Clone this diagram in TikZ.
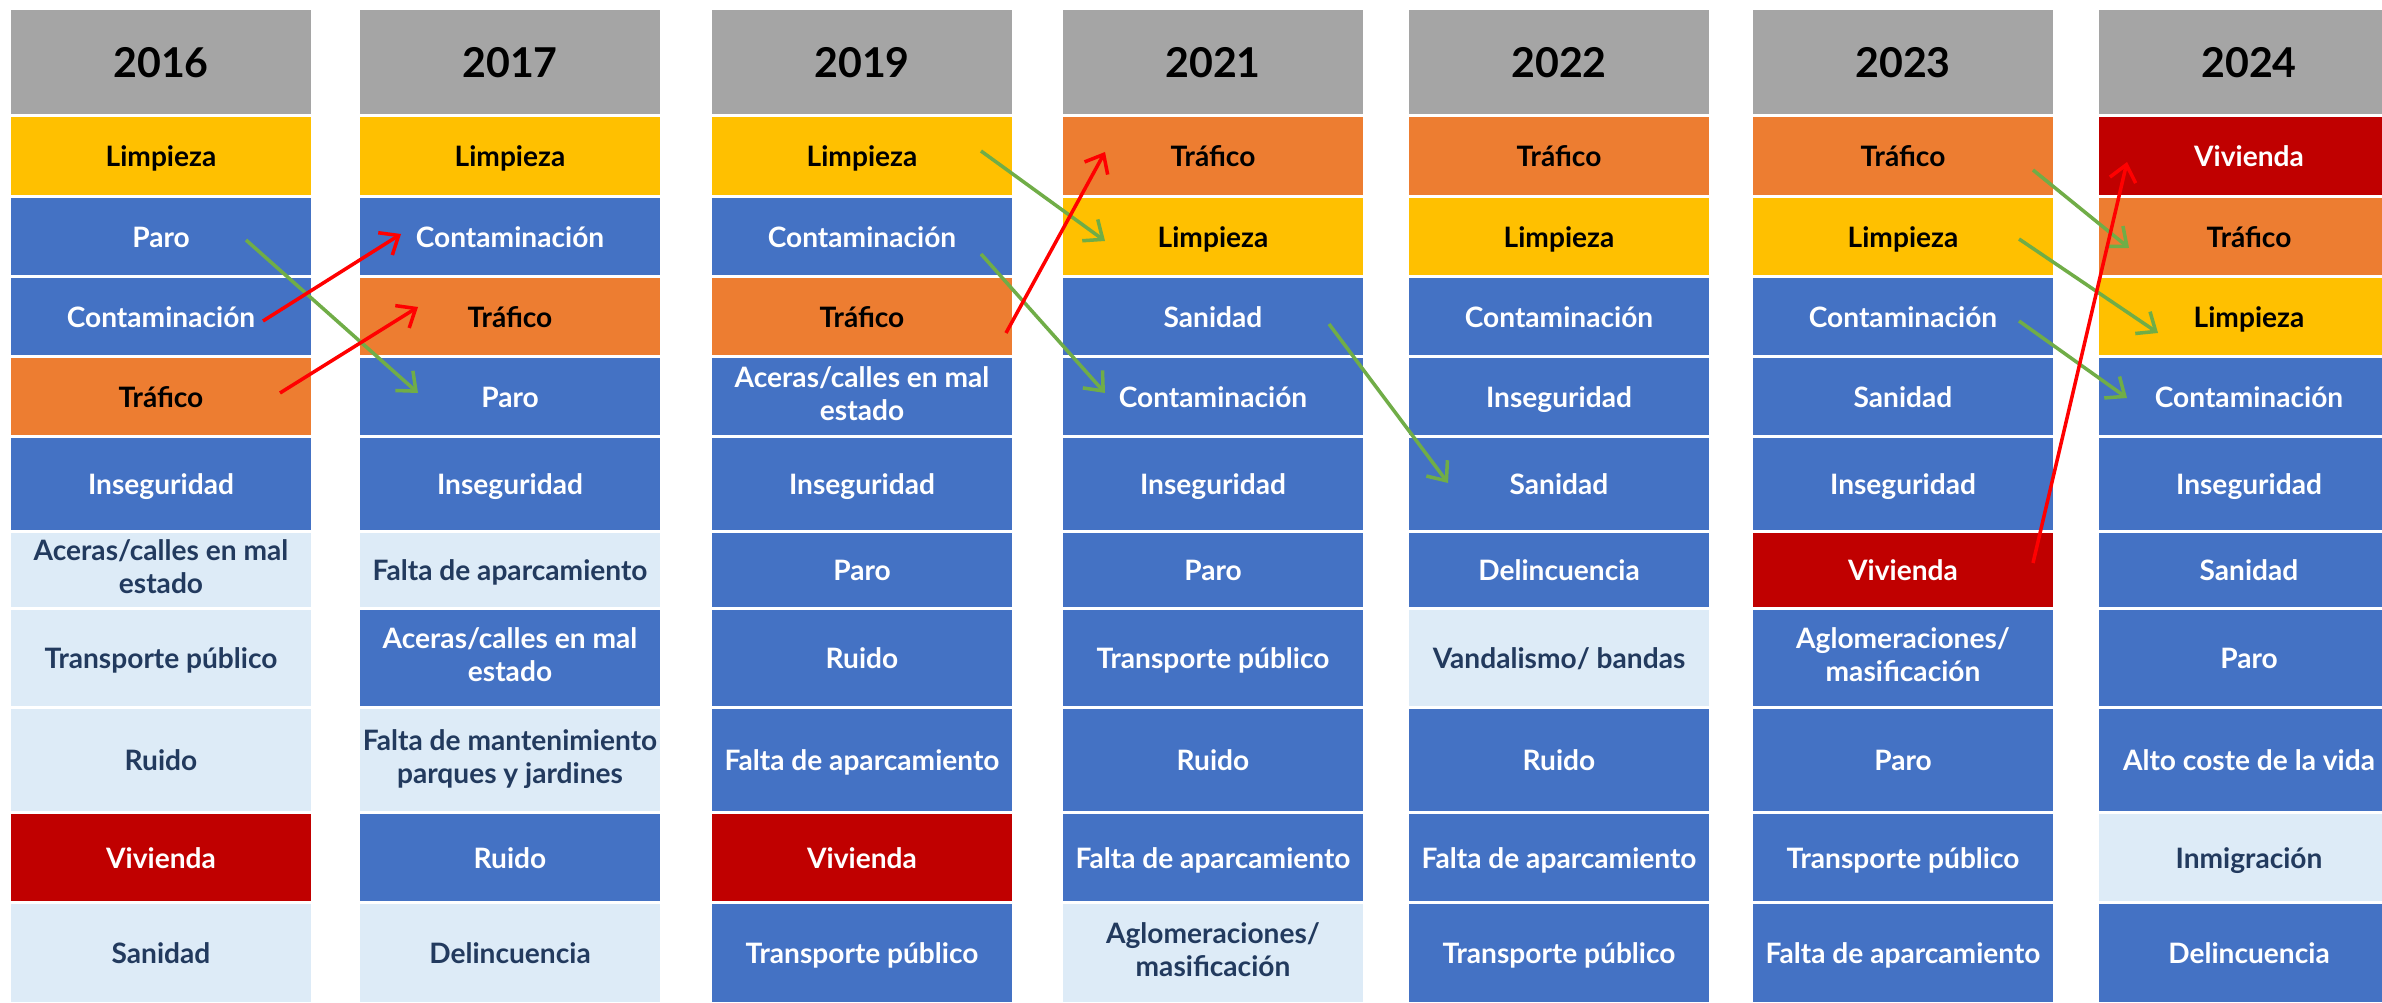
\documentclass[tikz,border=0pt]{standalone}
\usepackage{fontspec}
\setmainfont{Lato}
\usepackage{tikz}
\usetikzlibrary{positioning,arrows.meta}
\definecolor{cHead}{HTML}{A5A5A5}
\definecolor{cYlw}{HTML}{FFC000}
\definecolor{cOrn}{HTML}{ED7D31}
\definecolor{cBlu}{HTML}{4472C4}
\definecolor{cPal}{HTML}{DDEBF7}
\definecolor{cCrm}{HTML}{C00000}
\definecolor{cInk}{HTML}{223A5E}
\definecolor{cUp}{HTML}{FF0000}
\definecolor{cDown}{HTML}{70AD47}

\begin{document}
\begin{tikzpicture}[node distance=0.03cm, >={Straight Barb[length=4.5pt,width=7.5pt]},
	cell/.style={rectangle, inner sep=0pt, outer sep=0pt, minimum width=3cm, align=center,
		font=\bfseries\fontsize{8}{9.4}\selectfont,
		execute at begin node={\rule[-0.213em]{0pt}{1.2em}},
		execute at end node={\rule[-0.213em]{0pt}{1.2em}}},
	hdr/.style={cell, fill=cHead, text=black, minimum height=1.04cm, font=\bfseries\fontsize{11.7}{13.5}\selectfont},
	ylw/.style={cell, fill=cYlw, text=black},
	orn/.style={cell, fill=cOrn, text=black},
	blu/.style={cell, fill=cBlu, text=white},
	pal/.style={cell, fill=cPal, text=cInk},
	crm/.style={cell, fill=cCrm, text=white},
	r1/.style={minimum height=0.78cm}, r2/.style={minimum height=0.77cm},
	r3/.style={minimum height=0.77cm}, r4/.style={minimum height=0.77cm},
	r5/.style={minimum height=0.92cm}, r6/.style={minimum height=0.74cm},
	r7/.style={minimum height=0.96cm}, r8/.style={minimum height=1.02cm},
	r9/.style={minimum height=0.87cm}, r10/.style={minimum height=0.98cm},
	up/.style={draw=cUp, line width=1pt, ->},
	down/.style={draw=cDown, line width=1pt, ->}]
	\fill[white] (0,0) rectangle (23.82,-10.03);
	\useasboundingbox (0,0) rectangle (23.82,-10.03);

	\node[hdr] (h16) at (1.61,-0.62) {2016};
	\node[ylw, r1, below=of h16] (a1) {Limpieza};
	\node[blu, r2, below=of a1] (a2) {Paro};
	\node[blu, r3, below=of a2] (a3) {Contaminación};
	\node[orn, r4, below=of a3] (a4) {Tráfico};
	\node[blu, r5, below=of a4] (a5) {Inseguridad};
	\node[pal, r6, below=of a5] (a6) {Aceras/calles en mal\\estado};
	\node[pal, r7, below=of a6] (a7) {Transporte público};
	\node[pal, r8, below=of a7] (a8) {Ruido};
	\node[crm, r9, below=of a8] (a9) {Vivienda};
	\node[pal, r10, below=of a9] (a10) {Sanidad};

	\node[hdr, right=0.49cm of h16] (h17) {2017};
	\node[ylw, r1, below=of h17] (b1) {Limpieza};
	\node[blu, r2, below=of b1] (b2) {Contaminación};
	\node[orn, r3, below=of b2] (b3) {Tráfico};
	\node[blu, r4, below=of b3] (b4) {Paro};
	\node[blu, r5, below=of b4] (b5) {Inseguridad};
	\node[pal, r6, below=of b5] (b6) {Falta de aparcamiento};
	\node[blu, r7, below=of b6] (b7) {Aceras/calles en mal\\estado};
	\node[pal, r8, below=of b7] (b8) {Falta de mantenimiento\\parques y jardines};
	\node[blu, r9, below=of b8] (b9) {Ruido};
	\node[pal, r10, below=of b9] (b10) {Delincuencia};

	\node[hdr, right=0.52cm of h17] (h19) {2019};
	\node[ylw, r1, below=of h19] (c1) {Limpieza};
	\node[blu, r2, below=of c1] (c2) {Contaminación};
	\node[orn, r3, below=of c2] (c3) {Tráfico};
	\node[blu, r4, below=of c3] (c4) {Aceras/calles en mal\\estado};
	\node[blu, r5, below=of c4] (c5) {Inseguridad};
	\node[blu, r6, below=of c5] (c6) {Paro};
	\node[blu, r7, below=of c6] (c7) {Ruido};
	\node[blu, r8, below=of c7] (c8) {Falta de aparcamiento};
	\node[crm, r9, below=of c8] (c9) {Vivienda};
	\node[blu, r10, below=of c9] (c10) {Transporte público};

	\node[hdr, right=0.51cm of h19] (h21) {2021};
	\node[orn, r1, below=of h21] (d1) {Tráfico};
	\node[ylw, r2, below=of d1] (d2) {Limpieza};
	\node[blu, r3, below=of d2] (d3) {Sanidad};
	\node[blu, r4, below=of d3] (d4) {Contaminación};
	\node[blu, r5, below=of d4] (d5) {Inseguridad};
	\node[blu, r6, below=of d5] (d6) {Paro};
	\node[blu, r7, below=of d6] (d7) {Transporte público};
	\node[blu, r8, below=of d7] (d8) {Ruido};
	\node[blu, r9, below=of d8] (d9) {Falta de aparcamiento};
	\node[pal, r10, below=of d9] (d10) {Aglomeraciones/\\masificación};

	\node[hdr, right=0.46cm of h21] (h22) {2022};
	\node[orn, r1, below=of h22] (e1) {Tráfico};
	\node[ylw, r2, below=of e1] (e2) {Limpieza};
	\node[blu, r3, below=of e2] (e3) {Contaminación};
	\node[blu, r4, below=of e3] (e4) {Inseguridad};
	\node[blu, r5, below=of e4] (e5) {Sanidad};
	\node[blu, r6, below=of e5] (e6) {Delincuencia};
	\node[pal, r7, below=of e6] (e7) {Vandalismo/ bandas};
	\node[blu, r8, below=of e7] (e8) {Ruido};
	\node[blu, r9, below=of e8] (e9) {Falta de aparcamiento};
	\node[blu, r10, below=of e9] (e10) {Transporte público};

	\node[hdr, right=0.44cm of h22] (h23) {2023};
	\node[orn, r1, below=of h23] (f1) {Tráfico};
	\node[ylw, r2, below=of f1] (f2) {Limpieza};
	\node[blu, r3, below=of f2] (f3) {Contaminación};
	\node[blu, r4, below=of f3] (f4) {Sanidad};
	\node[blu, r5, below=of f4] (f5) {Inseguridad};
	\node[crm, r6, below=of f5] (f6) {Vivienda};
	\node[blu, r7, below=of f6] (f7) {Aglomeraciones/\\masificación};
	\node[blu, r8, below=of f7] (f8) {Paro};
	\node[blu, r9, below=of f8] (f9) {Transporte público};
	\node[blu, r10, below=of f9] (f10) {Falta de aparcamiento};

	\node[hdr, right=0.46cm of h23] (h24) {2024};
	\node[crm, r1, below=of h24] (g1) {Vivienda};
	\node[orn, r2, below=of g1] (g2) {Tráfico};
	\node[ylw, r3, below=of g2] (g3) {Limpieza};
	\node[blu, r4, below=of g3] (g4) {Contaminación};
	\node[blu, r5, below=of g4] (g5) {Inseguridad};
	\node[blu, r6, below=of g5] (g6) {Sanidad};
	\node[blu, r7, below=of g6] (g7) {Paro};
	\node[blu, r8, below=of g7] (g8) {Alto coste de la vida};
	\node[pal, r9, below=of g8] (g9) {Inmigración};
	\node[blu, r10, below=of g9] (g10) {Delincuencia};

	\draw[down] ([xshift=0.85cm,yshift=-0.035cm]a2.center) -- ([xshift=-0.92cm,yshift=0.035cm]b4.center);
	\draw[up] ([xshift=1.02cm,yshift=-0.045cm]a3.center) -- ([xshift=-1.09cm,yshift=0.025cm]b2.center);
	\draw[up] ([xshift=1.19cm,yshift=0.035cm]a4.center) -- ([xshift=-0.92cm,yshift=0.095cm]b3.center);
	\draw[down] ([xshift=1.19cm,yshift=0.05cm]c1.center) -- ([xshift=-1.08cm,yshift=-0.045cm]d2.center);
	\draw[down] ([xshift=1.19cm,yshift=-0.175cm]c2.center) -- ([xshift=-1.08cm,yshift=0.035cm]d4.center);
	\draw[up] ([xshift=1.44cm,yshift=-0.165cm]c3.center) -- ([xshift=-1.08cm,yshift=0.04cm]d1.center);
	\draw[down] ([xshift=1.16cm,yshift=-0.075cm]d3.center) -- ([xshift=-1.11cm,yshift=0.01cm]e5.center);
	\draw[down] ([xshift=1.30cm,yshift=-0.14cm]f1.center) -- ([xshift=-1.20cm,yshift=-0.115cm]g2.center);
	\draw[down] ([xshift=1.16cm,yshift=-0.025cm]f2.center) -- ([xshift=-0.91cm,yshift=-0.165cm]g3.center);
	\draw[down] ([xshift=1.16cm,yshift=-0.045cm]f3.center) -- ([xshift=-1.22cm,yshift=-0.015cm]g4.center);
	\draw[up] ([xshift=1.30cm,yshift=0.07cm]f6.center) -- ([xshift=-1.22cm,yshift=-0.06cm]g1.center);
\end{tikzpicture}
\end{document}
